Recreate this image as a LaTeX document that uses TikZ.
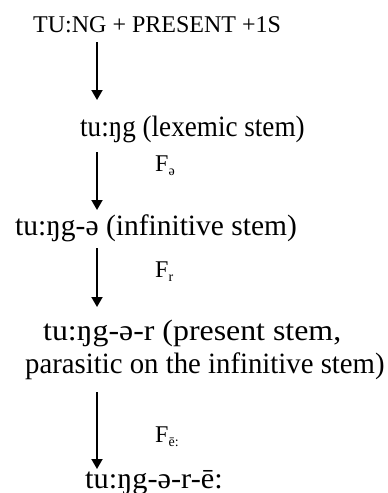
\documentclass[tikz,border=0pt]{standalone}
\usepackage{fontspec}
\usepackage{graphicx}
\setmainfont{Liberation Serif}
\usetikzlibrary{arrows.meta}
\begin{document}
\begin{tikzpicture}[x=1pt,y=-1pt,
  lbl/.style={anchor=base west,inner sep=0pt,font=\fontsize{29.5}{32}\selectfont},
  toplbl/.style={anchor=base west,inner sep=0pt,font=\fontsize{24}{26}\selectfont},
  flbl/.style={anchor=base west,inner sep=0pt,font=\fontsize{24}{26}\selectfont},
  arr/.style={line width=1.8pt,-{Triangle[width=11pt,length=10pt]}}]
\useasboundingbox (0,0) rectangle (388,493);
\node[toplbl] (t1) at (33,32) {TU:NG + PRESENT +1S};
\node[lbl] (t2) at (80,136) {\scalebox{0.92}[1]{tu:ŋg (lexemic stem)}};
\node[lbl] (t3) at (15,235) {tu:ŋg-ə (infinitive stem)};
\node[lbl] (t4) at (43,340) {\scalebox{1.08}[1]{tu:ŋg-ə-r (present stem,}};
\node[lbl] (t5) at (25,373) {\scalebox{0.975}[1]{parasitic on the infinitive stem)}};
\node[lbl] (t6) at (85,488) {\scalebox{1.03}[1]{tu:ŋg-ə-r-ē:}};
\node[flbl] (f1) at (155,171) {F\raisebox{-4pt}{\fontsize{14}{15}\selectfont ə}};
\node[flbl] (f2) at (155,277) {F\raisebox{-4pt}{\fontsize{14}{15}\selectfont r}};
\node[flbl] (f3) at (155,442) {F\raisebox{-4pt}{\fontsize{14}{15}\selectfont ē:}};
\coordinate (a1s) at (97,42);  \coordinate (a1e) at (97,100);
\coordinate (a2s) at (97,152); \coordinate (a2e) at (97,210);
\coordinate (a3s) at (97,248); \coordinate (a3e) at (97,307);
\coordinate (a4s) at (97,392); \coordinate (a4e) at (97,469);
\draw[arr] (a1s) -- (a1e);
\draw[arr] (a2s) -- (a2e);
\draw[arr] (a3s) -- (a3e);
\draw[arr] (a4s) -- (a4e);
\end{tikzpicture}
\end{document}
